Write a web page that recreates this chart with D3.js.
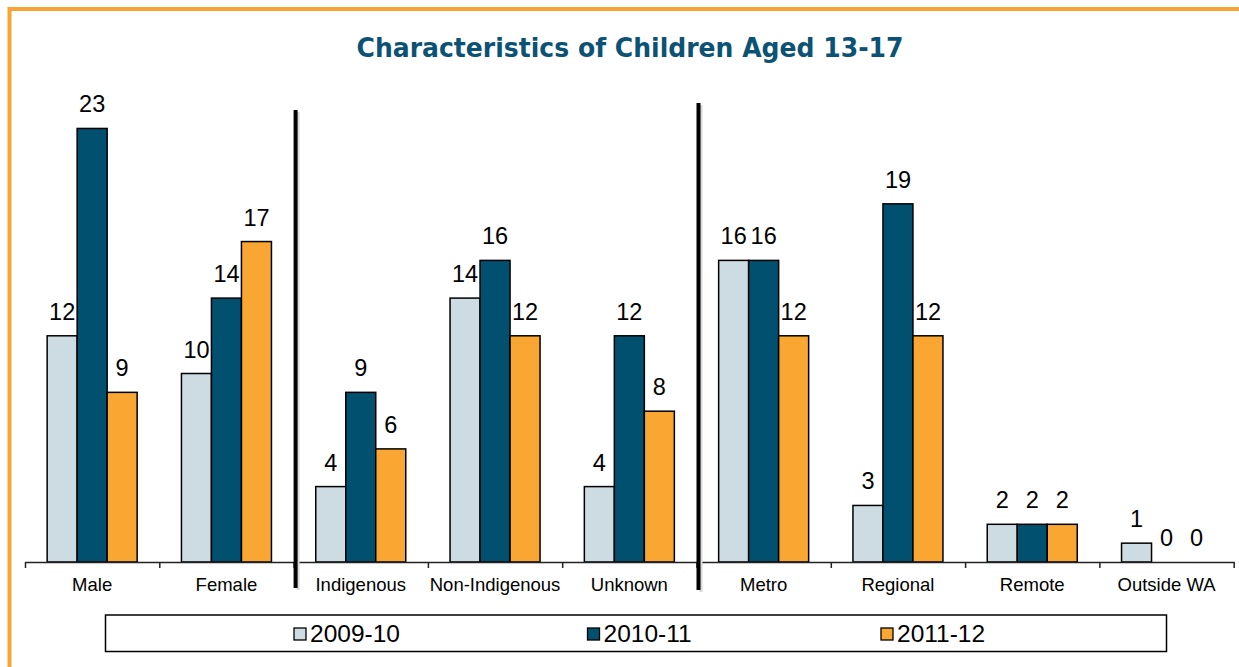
<!DOCTYPE html>
<html>
<head>
<meta charset="utf-8">
<script src="https://cdn.jsdelivr.net/npm/d3@7"></script>
<style>
  html, body { margin: 0; padding: 0; background: #ffffff; }
  svg { display: block; }
</style>
</head>
<body>
<svg id="chart" width="1239" height="667"></svg>
<script>
// ---- Data ----
const title = "Characteristics of Children Aged 13-17";
const categories = ["Male", "Female", "Indigenous", "Non-Indigenous", "Unknown", "Metro", "Regional", "Remote", "Outside WA"];
const seriesNames = ["2009-10", "2010-11", "2011-12"];
const values2009 = [12, 10, 4, 14, 4, 16, 3, 2, 1];
const values2010 = [23, 14, 9, 16, 12, 16, 19, 2, 0];
const values2011 = [9, 17, 6, 12, 8, 12, 12, 2, 0];
const separatorsAfter = ["Female", "Unknown"];

// ---- Styles ----
const colors = ["#CCDCE2", "#02506F", "#F9A632"];
const series = [values2009, values2010, values2011];

const svg = d3.select("#chart");

// Orange frame
svg.append("rect")
  .attr("x", 9.5).attr("y", 9)
  .attr("width", 1300).attr("height", 700)
  .attr("fill", "none")
  .attr("stroke", "#F7A533")
  .attr("stroke-width", 4);

// Title
svg.append("text")
  .attr("x", 630).attr("y", 57)
  .attr("text-anchor", "middle")
  .attr("font-family", "'DejaVu Sans', sans-serif")
  .attr("font-weight", "bold")
  .attr("font-size", 27)
  .attr("fill", "#0B5275")
  .attr("textLength", 547)
  .attr("lengthAdjust", "spacingAndGlyphs")
  .text(title);

// Scales
const x0 = 25, x1 = 1233.7;
const baseY = 562;
const x = d3.scaleBand().domain(categories).range([x0, x1]).paddingInner(0).paddingOuter(0);
const xIdx = d3.scaleLinear().domain([0, categories.length]).range([x0, x1]);
const barW = 30;
const xs = d3.scaleBand().domain(seriesNames).range([0, barW * 3]);
const y = d3.scaleLinear().domain([0, 25]).range([baseY, baseY - 25 * 18.85]);

// Bars
const g = svg.append("g");
seriesNames.forEach((s, si) => {
  const vals = series[si];
  const grp = g.append("g");
  categories.forEach((c, ci) => {
    const v = vals[ci];
    const bx = x(c) + x.bandwidth() / 2 - barW * 1.5 + xs(s);
    if (v > 0) {
      grp.append("rect")
        .attr("x", bx).attr("y", y(v))
        .attr("width", xs.bandwidth()).attr("height", y(0) - y(v))
        .attr("fill", colors[si])
        .attr("stroke", "#000").attr("stroke-width", 1.5);
    }
    grp.append("text")
      .attr("x", bx + xs.bandwidth() / 2)
      .attr("y", y(v) - 16)
      .attr("text-anchor", "middle")
      .attr("font-family", "'Liberation Sans', Arial, sans-serif")
      .attr("font-size", 23.5)
      .attr("fill", "#000")
      .text(v);
  });
});

// Axis (ticks between categories)
const axis = d3.axisBottom(xIdx)
  .tickValues(d3.range(categories.length + 1))
  .tickSize(6)
  .tickSizeOuter(0)
  .tickFormat("");
const ag = svg.append("g").attr("transform", `translate(0,${baseY})`).call(axis);
ag.select(".domain").attr("stroke", "#222").attr("stroke-width", 1.5);
ag.selectAll(".tick line").attr("stroke", "#222").attr("stroke-width", 1.5);

// Category labels
svg.append("g").selectAll("text").data(categories).join("text")
  .attr("x", d => x(d) + x.bandwidth() / 2)
  .attr("y", 591)
  .attr("text-anchor", "middle")
  .attr("font-family", "'Liberation Sans', Arial, sans-serif")
  .attr("font-size", 18.5)
  .attr("fill", "#000")
  .text(d => d);

// Separators
const sepTops = [110, 103];
const sepBottoms = [588, 590];
separatorsAfter.forEach((c, i) => {
  const sx = x(c) + x.bandwidth() + 2;
  svg.append("line")
    .attr("x1", sx + 2.5).attr("x2", sx + 2.5)
    .attr("y1", sepTops[i] + 2).attr("y2", sepBottoms[i] + 2)
    .attr("stroke", "#d8d8d8").attr("stroke-width", 3);
  svg.append("line")
    .attr("x1", sx).attr("x2", sx)
    .attr("y1", sepTops[i]).attr("y2", sepBottoms[i])
    .attr("stroke", "#000").attr("stroke-width", 4);
});

// Legend
const lg = svg.append("g");
lg.append("rect")
  .attr("x", 105.5).attr("y", 615)
  .attr("width", 1061).attr("height", 36.5)
  .attr("fill", "#fff")
  .attr("stroke", "#000").attr("stroke-width", 1.5);
const legendX = d3.scalePoint().domain(seriesNames).range([294, 881]);
seriesNames.forEach((s, si) => {
  const lx = legendX(s);
  lg.append("rect")
    .attr("x", lx).attr("y", 628)
    .attr("width", 12).attr("height", 12)
    .attr("fill", colors[si])
    .attr("stroke", "#000").attr("stroke-width", 1.3);
  lg.append("text")
    .attr("x", lx + 16).attr("y", 642)
    .attr("font-family", "'Liberation Sans', Arial, sans-serif")
    .attr("font-size", 24.5)
    .attr("fill", "#000")
    .text(s);
});
</script>
</body>
</html>
